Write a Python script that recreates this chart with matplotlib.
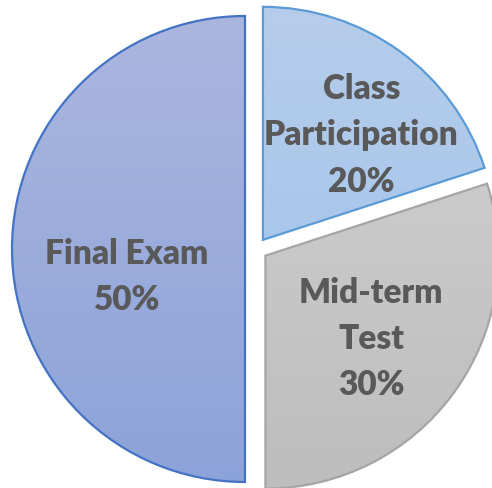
import numpy as np
import matplotlib.pyplot as plt
from matplotlib.colors import LinearSegmentedColormap

# Data
categories = ['Class\nParticipation', 'Mid-term\nTest', 'Final Exam']
shares = [20, 30, 50]
pct_labels = ['20%', '30%', '50%']

# gradient (top, bottom) and edge colours for each slice
fill_top = ['#B6CDEB', '#D2D2D2', '#ABB6DF']
fill_bottom = ['#9CC1EA', '#BDBDBD', '#8CA3D9']
edge_colors = ['#5B9BD5', '#A5A5A5', '#4472C4']

fig = plt.figure(figsize=(4.92, 4.89), dpi=100)
ax = fig.add_axes([0, 0, 1, 1])

R = 233
cx, cy = 256.3, 239
# explode is in data units here (pie does not scale it by radius)
wedges, _ = ax.pie(shares, startangle=90, counterclock=False, radius=R,
                   center=(cx, cy), explode=[11.3] * 3,
                   wedgeprops=dict(linewidth=1.6), frame=True)

ax.set_xlim(0, 492)
ax.set_ylim(0, 489)
ax.set_aspect('auto')
ax.axis('off')

grad = np.linspace(0, 1, 256).reshape(-1, 1)
label_dist = [0.62, 0.575, 0.52]
label_ang = [47, -38, 193]
for i, w in enumerate(wedges):
    w.set_facecolor('none')
    w.set_edgecolor(edge_colors[i])
    w.set_zorder(3)
    cmap = LinearSegmentedColormap.from_list('g%d' % i, [fill_top[i], fill_bottom[i]])
    wc = w.center
    img = ax.imshow(grad, cmap=cmap, aspect='auto', zorder=2,
                    extent=[wc[0] - R, wc[0] + R, wc[1] - R, wc[1] + R])
    img.set_clip_path(w)
    a = np.deg2rad(label_ang[i])
    tx = wc[0] + R * label_dist[i] * np.cos(a)
    ty = wc[1] + R * label_dist[i] * np.sin(a)
    ax.text(tx, ty, categories[i] + '\n' + pct_labels[i], ha='center', va='center',
            fontsize=24, fontweight='heavy', color='#595959', family='Lato',
            linespacing=1.55, zorder=4)

ax.set_xlim(0, 492)
ax.set_ylim(0, 489)
fig.savefig('out.png', dpi=100)
